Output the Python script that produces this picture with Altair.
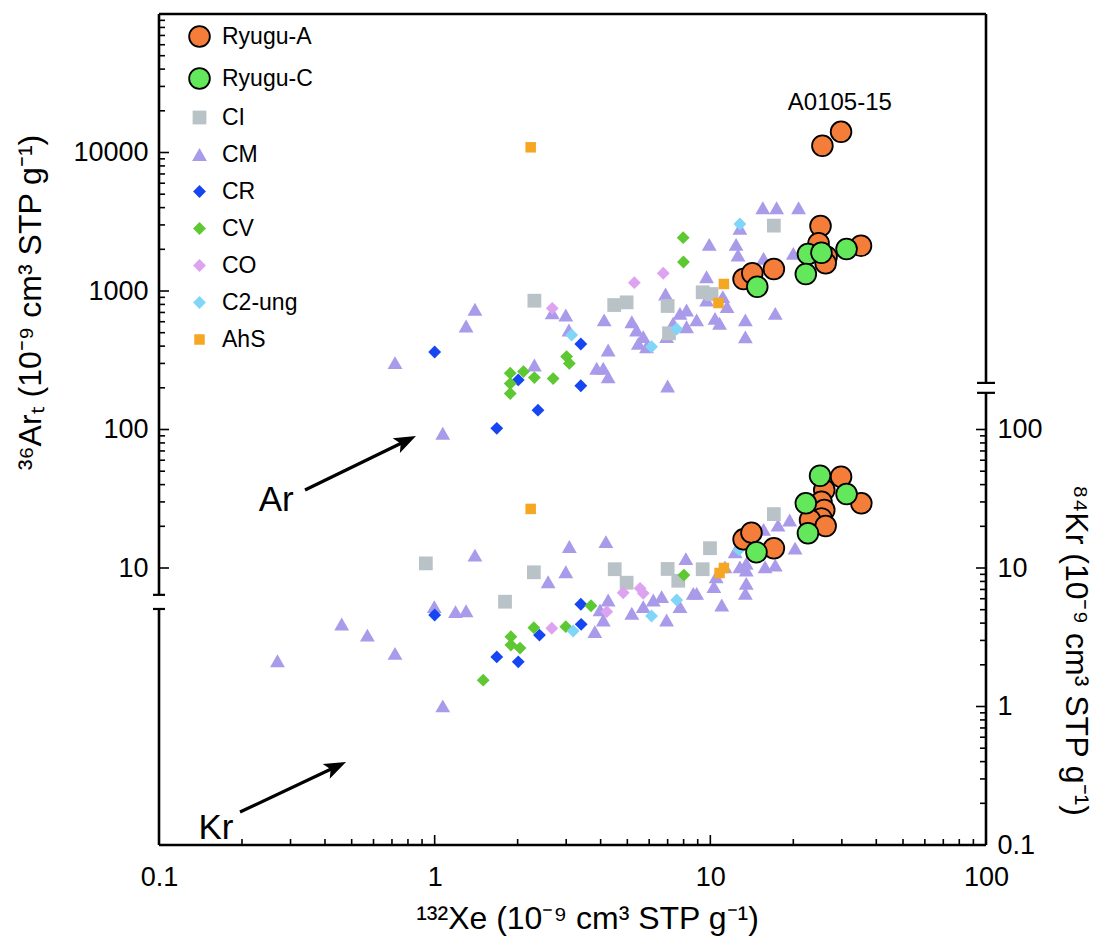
import math
import altair as alt
import pandas as pd

FONT = "Liberation Sans, Arial, Helvetica, sans-serif"
W, H = 827, 831
X_DOMAIN = [0.1, 100]
Y_DOMAIN = [0.1, 100000]

# ---------------- categories & styles ----------------
groups = ["Ryugu-A", "Ryugu-C", "CI", "CM", "CR", "CV", "CO", "C2-ung", "AhS"]
colors = ["#F47D3A", "#62E85A", "#B9C3C7", "#A99AEA", "#1646F2", "#5DC832",
          "#DDA3F0", "#7FD6F8", "#F5A623"]
shapes = ["circle", "circle", "square", "triangle-up", "diamond", "diamond",
          "diamond", "diamond", "square"]
sizes = [430, 430, 190, 220, 165, 165, 165, 165, 110]
stroke_widths = [1.8, 1.8, 0, 0, 0, 0, 0, 0, 0]
draw_order = [8, 9, 2, 1, 3, 4, 5, 6, 7]

# ---------------- data: 132Xe vs 36Ar (upper cloud) ----------------
ryugu_a_ar_xe = [25.5, 29.8, 25.1, 35.2, 24.7, 26.4, 26.2, 13.2, 14.2, 17.0]
ryugu_a_ar = [11200, 14100, 2945, 2123, 2210, 1770, 1585, 1222, 1343, 1442]
ryugu_c_ar_xe = [14.8, 22.6, 22.2, 25.3, 31.2]
ryugu_c_ar = [1074, 1850, 1327, 1890, 2010]
ci_ar_xe = [2.30, 4.48, 4.97, 7.0, 7.08, 9.38, 10.1, 17.0]
ci_ar = [851, 792, 828, 779, 495, 979, 951, 2965]
cm_ar_xe = [1.40, 1.30, 0.718, 1.07, 6.88, 2.67, 2.99, 4.12, 5.19, 5.40, 5.71,
            5.48, 5.87, 7.76, 7.33, 6.94, 8.20, 3.07, 4.26, 2.30, 3.87, 4.09,
            4.26, 7.0, 15.5, 17.4, 20.9, 12.8, 9.91, 12.4, 12.6, 15.6, 20.0,
            9.69, 9.69, 11.1, 11.5, 8.2, 8.92, 10.4, 10.8, 13.4, 17.2, 13.4]
cm_ar = [738, 559, 304, 93.9, 951, 697, 671, 618, 600, 523, 468,
         419, 396, 690, 585, 468, 552, 523, 375, 292, 277, 277,
         240, 206, 3990, 3990, 3990, 2836, 2173, 2173, 1820, 1722, 1871,
         1268, 861, 910, 771, 729, 618, 635, 585, 618, 690, 466]
cr_ar_xe = [1.0, 1.68, 2.01, 2.37, 3.39, 3.39]
cr_ar = [363, 102, 228, 138, 414, 207]
cv_ar_xe = [1.88, 2.10, 2.30, 2.69, 1.88, 1.88, 3.01, 3.08, 7.97, 7.99]
cv_ar = [255, 262, 237, 233, 215, 182, 336, 300, 2426, 1619]
co_ar_xe = [2.67, 5.30, 6.75]
co_ar = [750, 1148, 1343]
c2_ar_xe = [3.14, 6.12, 7.55, 12.8]
c2_ar = [481, 396, 532, 3048]
ahs_ar_xe = [2.23, 11.2, 10.7]
ahs_ar = [10900, 1124, 819]

# ---------------- data: 132Xe vs 84Kr (lower cloud) ----------------
ryugu_a_kr_xe = [29.8, 35.3, 25.9, 25.3, 25.9, 25.3, 23.0, 26.2, 13.2, 14.1, 17.0]
ryugu_a_kr = [45.6, 29.3, 36.6, 30.1, 26.2, 22.8, 22.2, 20.1, 16.1, 18.0, 13.9]
ryugu_c_kr_xe = [25.0, 31.2, 22.2, 22.6, 14.7]
ryugu_c_kr = [46.4, 34.2, 29.3, 17.8, 13.0]
ci_kr_xe = [0.929, 1.80, 2.29, 4.50, 4.97, 7.0, 7.65, 9.38, 9.97, 17.0]
ci_kr = [10.8, 5.71, 9.31, 9.8, 7.83, 9.84, 8.09, 9.8, 13.9, 24.5]
cm_kr_xe = [1.40, 0.997, 1.19, 1.30, 0.460, 0.570, 0.718, 0.269, 1.07,
            3.08, 4.18, 2.99, 2.58, 8.15, 4.26, 3.98, 4.09, 3.81,
            5.19, 5.71, 6.94, 6.21, 6.66, 7.76, 8.67,
            19.4, 17.6, 15.6, 20.3, 17.2, 15.8, 12.3, 13.5, 12.8, 13.5,
            13.5, 13.4, 11.0, 11.3, 10.5, 10.3, 8.92]
cm_kr = [12.4, 5.26, 4.84, 4.91, 3.94, 3.28, 2.42, 2.14, 1.01,
         14.3, 15.5, 9.40, 7.96, 11.7, 5.87, 4.98, 4.21, 3.47,
         4.71, 5.26, 4.21, 5.87, 6.21, 5.26, 6.56,
         22.2, 20.4, 19.0, 13.9, 10.5, 10.2, 13.1, 10.8, 10.2, 9.68,
         7.75, 6.56, 5.41, 10.2, 8.65, 7.33, 6.56]
cr_kr_xe = [1.0, 1.68, 2.01, 2.40, 3.39, 3.40]
cr_kr = [4.58, 2.28, 2.10, 3.28, 5.47, 3.92]
cv_kr_xe = [1.50, 1.89, 1.89, 2.04, 2.29, 2.99, 3.69, 8.02]
cv_kr = [1.55, 3.19, 2.78, 2.64, 3.71, 3.77, 5.34, 8.89]
co_kr_xe = [4.83, 5.56, 5.71, 4.21, 2.66]
co_kr = [6.63, 7.13, 6.56, 4.84, 3.67]
c2_kr_xe = [7.55, 6.12, 3.18, 12.7]
c2_kr = [5.87, 4.50, 3.51, 13.5]
ahs_kr_xe = [2.23, 11.2, 10.8]
ahs_kr = [26.7, 10.0, 9.2]

series = {
    "Ryugu-A": [(ryugu_a_ar_xe, ryugu_a_ar), (ryugu_a_kr_xe, ryugu_a_kr)],
    "Ryugu-C": [(ryugu_c_ar_xe, ryugu_c_ar), (ryugu_c_kr_xe, ryugu_c_kr)],
    "CI": [(ci_ar_xe, ci_ar), (ci_kr_xe, ci_kr)],
    "CM": [(cm_ar_xe, cm_ar), (cm_kr_xe, cm_kr)],
    "CR": [(cr_ar_xe, cr_ar), (cr_kr_xe, cr_kr)],
    "CV": [(cv_ar_xe, cv_ar), (cv_kr_xe, cv_kr)],
    "CO": [(co_ar_xe, co_ar), (co_kr_xe, co_kr)],
    "C2-ung": [(c2_ar_xe, c2_ar), (c2_kr_xe, c2_kr)],
    "AhS": [(ahs_ar_xe, ahs_ar), (ahs_kr_xe, ahs_kr)],
}

rows = []
for gi, g in enumerate(groups):
    for gas, (xs_, ys_) in zip(["Ar", "Kr"], series[g]):
        for xv, yv in zip(xs_, ys_):
            rows.append({"group": g, "gas": gas, "xe": xv, "val": yv,
                         "z": draw_order[gi]})
df = pd.DataFrame(rows)

# ---------------- annotations ----------------
ann_text = ["A0105-15", "Ar", "Kr"]
ann_x = [29.5, 0.266, 0.161]
ann_y = [22700, 31.0, 0.133]
ann_size = [24, 35, 35]

arrow_x0 = [0.3386, 0.1967]
arrow_y0 = [36.6, 0.173]
arrow_x1 = [0.8555, 0.477]
arrow_y1 = [89.8, 0.397]

# ---------------- axis ticks & frame breaks ----------------
x_major = [0.1, 1, 10, 100]
x_minor = [m * 10.0 ** k for k in (-1, 0, 1) for m in range(2, 10)]
left_major = [10, 100, 1000, 10000]
left_minor = [m * 10.0 ** k for k in (1, 2, 3, 4) for m in range(2, 10)]
right_major = [0.1, 1, 10, 100]
right_minor = [m * 10.0 ** k for k in (-1, 0, 1) for m in range(2, 10)]
left_break = [6.4, 5.06]     # axis value where the left axis is interrupted
right_break = [217, 184]     # axis value where the right axis is interrupted

xs = alt.Scale(type="log", domain=X_DOMAIN, nice=False)
ys = alt.Scale(type="log", domain=Y_DOMAIN, nice=False)


def px(v):
    return W * (math.log10(v) - math.log10(X_DOMAIN[0])) / (
        math.log10(X_DOMAIN[1]) - math.log10(X_DOMAIN[0]))


def py(v):
    return H * (1 - (math.log10(v) - math.log10(Y_DOMAIN[0])) / (
        math.log10(Y_DOMAIN[1]) - math.log10(Y_DOMAIN[0])))


LW = 2.6
LABEL_FS = 27
TITLE_FS = 32
legend = alt.Legend(title=None, orient="none", legendX=29, legendY=11,
                    labelFont=FONT, labelFontSize=23, labelColor="black",
                    labelOffset=11, rowPadding=13, symbolOpacity=1)

common = dict(format="~g", ticks=False, tickSize=0, domain=False, grid=False,
              labelFlush=False, labelOverlap=False, labelFont=FONT,
              labelFontSize=LABEL_FS, labelColor="black", titleFont=FONT,
              titleFontSize=TITLE_FS, titleFontWeight="normal",
              titleColor="black", titleAlign="center", titleBaseline="middle")

x_axis = alt.Axis(orient="bottom", values=x_major, labelPadding=19,
                  title="¹³²Xe (10⁻⁹ cm³ STP g⁻¹)", titleX=428, titleY=73,
                  **common)
left_axis = alt.Axis(orient="left", values=left_major, labelPadding=11,
                     title="³⁶Arₜ (10⁻⁹ cm³ STP g⁻¹)", titleX=-129,
                     titleY=288, titleAngle=270, **common)
right_axis = alt.Axis(orient="right", values=right_major, labelPadding=11,
                      title="⁸⁴Kr (10⁻⁹ cm³ STP g⁻¹)", titleX=89,
                      titleY=636, titleAngle=90, **common)

# points
points = alt.Chart(df).mark_point(filled=True, opacity=1, stroke="black").encode(
    x=alt.X("xe:Q", scale=xs, axis=x_axis),
    y=alt.Y("val:Q", scale=ys, axis=left_axis),
    color=alt.Color("group:N", scale=alt.Scale(domain=groups, range=colors),
                    legend=legend),
    shape=alt.Shape("group:N", scale=alt.Scale(domain=groups, range=shapes),
                    legend=legend),
    size=alt.Size("group:N", scale=alt.Scale(type="ordinal", domain=groups,
                                             range=sizes), legend=legend),
    strokeWidth=alt.StrokeWidth("group:N",
                                scale=alt.Scale(type="ordinal", domain=groups,
                                                range=stroke_widths),
                                legend=legend),
    order=alt.Order("z:Q"),
)

# frame lines
top_line = alt.Chart(pd.DataFrame({"a": [0]})).mark_rule(
    color="black", strokeWidth=LW).encode(
    x=alt.value(0), x2=alt.value(W), y=alt.value(0))
bottom_line = alt.Chart(pd.DataFrame({"a": [0]})).mark_rule(
    color="black", strokeWidth=LW).encode(
    x=alt.value(0), x2=alt.value(W), y=alt.value(H))

left_seg = pd.DataFrame({"y1": [Y_DOMAIN[1], left_break[1]],
                         "y2": [left_break[0], Y_DOMAIN[0]]})
right_seg = pd.DataFrame({"y1": [Y_DOMAIN[1], right_break[1]],
                          "y2": [right_break[0], Y_DOMAIN[0]]})
left_line = alt.Chart(left_seg).mark_rule(color="black", strokeWidth=LW).encode(
    x=alt.value(0), y=alt.Y("y1:Q", scale=ys, axis=None), y2="y2:Q")
right_line = alt.Chart(right_seg).mark_rule(color="black", strokeWidth=LW).encode(
    x=alt.value(W), y=alt.Y("y1:Q", scale=ys, axis=None), y2="y2:Q")
left_serif = alt.Chart(pd.DataFrame({"v": left_break})).mark_rule(
    color="black", strokeWidth=2.2).encode(
    y=alt.Y("v:Q", scale=ys, axis=None), x=alt.value(-6), x2=alt.value(6))
right_serif = alt.Chart(pd.DataFrame({"v": right_break})).mark_rule(
    color="black", strokeWidth=2.2).encode(
    y=alt.Y("v:Q", scale=ys, axis=None), x=alt.value(W - 9), x2=alt.value(W + 9))


def xticks(vals, length):
    return alt.Chart(pd.DataFrame({"v": vals})).mark_rule(
        color="black", strokeWidth=1.6).encode(
        x=alt.X("v:Q", scale=xs, axis=None),
        y=alt.value(H), y2=alt.value(H - length))


def lticks(vals, length):
    return alt.Chart(pd.DataFrame({"v": vals})).mark_rule(
        color="black", strokeWidth=1.6).encode(
        y=alt.Y("v:Q", scale=ys, axis=None),
        x=alt.value(0), x2=alt.value(length))


def rticks(vals, length, axis=None):
    return alt.Chart(pd.DataFrame({"v": vals})).mark_rule(
        color="black", strokeWidth=1.6).encode(
        y=alt.Y("v:Q", scale=ys, axis=axis),
        x=alt.value(W), x2=alt.value(W - length))


# annotations
ann = alt.Chart(pd.DataFrame({"t": ann_text, "x": ann_x, "y": ann_y,
                              "fs": ann_size})).mark_text(
    font=FONT, color="black", align="center", baseline="middle").encode(
    x=alt.X("x:Q", scale=xs, axis=None),
    y=alt.Y("y:Q", scale=ys, axis=None),
    text="t:N",
    size=alt.Size("fs:Q", scale=None))

# arrows: shaft ends a little behind the tip, head rotated along the shaft
shaft_x1, shaft_y1, angles = [], [], []
for x0, y0, x1, y1 in zip(arrow_x0, arrow_y0, arrow_x1, arrow_y1):
    dx, dy = px(x1) - px(x0), py(y1) - py(y0)
    angles.append(math.degrees(math.atan2(dy, dx)) % 360)
    f = 0.88
    shaft_x1.append(10 ** (math.log10(x0) + f * (math.log10(x1) - math.log10(x0))))
    shaft_y1.append(10 ** (math.log10(y0) + f * (math.log10(y1) - math.log10(y0))))

arr_df = pd.DataFrame({"x0": arrow_x0, "y0": arrow_y0, "x1": arrow_x1,
                       "y1": arrow_y1, "sx": shaft_x1, "sy": shaft_y1,
                       "ang": angles})
shafts = alt.Chart(arr_df).mark_rule(color="black", strokeWidth=3.2).encode(
    x=alt.X("x0:Q", scale=xs, axis=None), y=alt.Y("y0:Q", scale=ys, axis=None),
    x2="sx:Q", y2="sy:Q")
heads = alt.Chart(arr_df).mark_point(
    shape="M0,0L-2,-0.75L-1.55,0L-2,0.75Z", filled=True, color="black",
    opacity=1, size=480).encode(
    x=alt.X("x1:Q", scale=xs, axis=None), y=alt.Y("y1:Q", scale=ys, axis=None),
    angle=alt.Angle("ang:Q", scale=None))

chart = alt.layer(
    points,
    top_line, bottom_line, left_line, right_line, left_serif, right_serif,
    xticks(x_major, 10), xticks(x_minor, 6),
    lticks(left_major, 10), lticks(left_minor, 6),
    rticks(right_major, 10, right_axis), rticks(right_minor, 6),
    ann, shafts, heads,
).resolve_axis(x="independent", y="independent").properties(
    width=W, height=H,
    autosize=alt.AutoSizeParams(type="none"),
    padding={"left": 159, "top": 14, "right": 1105 - 159 - W,
             "bottom": 945 - 14 - H},
    background="white",
).configure_view(stroke=None)

chart.save("out.html", embed_options={"renderer": "svg", "actions": False})
